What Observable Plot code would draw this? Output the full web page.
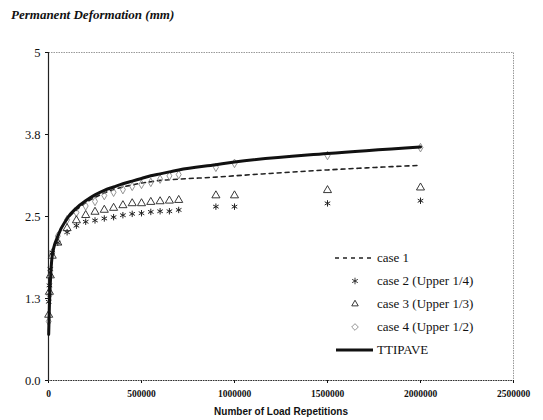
<!DOCTYPE html>
<html>
<head>
<meta charset="utf-8">
<script src="https://cdn.jsdelivr.net/npm/d3@7"></script>
<script src="https://cdn.jsdelivr.net/npm/@observablehq/plot@0.6"></script>
<style>
  body { margin: 0; background: #fff; }
  #title { height: 30px; line-height: 30px; padding-left: 11px; font-family: "Liberation Serif", "Times New Roman", Tinos, "DejaVu Serif", serif; font-size: 13px; font-weight: bold; font-style: italic; color: #111; }
  svg { display: block; }
</style>
</head>
<body>
<div id="title">Permanent Deformation (mm)</div>
<div id="chart"></div>
<script>
// Load repetitions (x)
const loadReps = [1000, 5000, 10000, 20000, 50000, 100000, 150000, 200000, 250000, 300000, 350000, 400000, 450000, 500000, 550000, 600000, 650000, 700000, 900000, 1000000, 1500000, 2000000];

// Permanent deformation (mm)
const case1 = [0.75, 1.20, 1.55, 1.90, 2.20, 2.45, 2.60, 2.71, 2.79, 2.86, 2.91, 2.95, 2.98, 3.01, 3.03, 3.05, 3.06, 3.07, 3.10, 3.12, 3.21, 3.28];
const case2 = [1.20, 1.45, 1.70, 1.95, 2.10, 2.26, 2.36, 2.42, 2.44, 2.47, 2.49, 2.52, 2.54, 2.55, 2.57, 2.58, 2.58, 2.60, 2.65, 2.65, 2.70, 2.74];
const case3 = [1.00, 1.35, 1.60, 1.90, 2.10, 2.32, 2.44, 2.52, 2.57, 2.60, 2.63, 2.67, 2.70, 2.70, 2.72, 2.73, 2.74, 2.75, 2.82, 2.82, 2.90, 2.94];
const case4 = [0.90, 1.30, 1.60, 1.95, 2.20, 2.45, 2.56, 2.66, 2.73, 2.82, 2.87, 2.91, 2.96, 2.99, 3.02, 3.07, 3.12, 3.14, 3.25, 3.31, 3.43, 3.55];
const ttipave = [0.70, 1.15, 1.50, 1.90, 2.20, 2.47, 2.63, 2.74, 2.83, 2.90, 2.95, 3.00, 3.04, 3.08, 3.12, 3.15, 3.18, 3.21, 3.29, 3.33, 3.46, 3.56];

const seriesNames = ["case 1", "case 2 (Upper 1/4)", "case 3 (Upper 1/3)", "case 4 (Upper 1/2)", "TTIPAVE"];

const xTicks = [0, 500000, 1000000, 1500000, 2000000, 2500000];
const yTicks = [0, 1.25, 2.5, 3.75, 5];
const yTickLabels = ["0.0", "1.3", "2.5", "3.8", "5"];
const xTitle = "Number of Load Repetitions";

const rows = (ys) => loadReps.map((x, i) => ({x, y: ys[i]}));
const d1 = rows(case1), d2 = rows(case2), d3s = rows(case3), d4 = rows(case4), dT = rows(ttipave);

const serif = "'Liberation Serif', 'Times New Roman', Tinos, 'DejaVu Serif', serif";

const svg = Plot.plot({
  width: 543,
  height: 390,
  marginTop: 22,
  marginBottom: 40,
  marginLeft: 48,
  marginRight: 30,
  style: {background: "#fff", color: "#111", fontFamily: serif},
  x: {domain: [0, 2500000]},
  y: {domain: [0, 5]},
  marks: [
    Plot.frame({stroke: "#999", strokeDasharray: "1.5,1"}),
    Plot.axisY({ticks: yTicks, tickFormat: (d, i) => yTickLabels[i], tickSize: 3, tickPadding: 5, fontSize: 12.5, fontFamily: serif, label: null}),
    Plot.axisX({ticks: xTicks, tickFormat: d => String(d), tickSize: 3, tickPadding: 7, fontSize: 9.5, fontWeight: "bold", fontFamily: serif, label: null}),
    Plot.ruleY([0], {stroke: "#333", strokeDasharray: "1.5,1", strokeWidth: 1.2}),
    Plot.ruleX([0], {stroke: "#222", strokeWidth: 1.2}),
    Plot.text([xTitle], {text: d => d, frameAnchor: "bottom", dy: 31, lineAnchor: "middle", fontFamily: "'Liberation Sans', Arial, sans-serif", fontWeight: "bold", fontSize: 10, fill: "#111"}),
    Plot.line(d1, {x: "x", y: "y", stroke: "#222", strokeWidth: 1.6, strokeDasharray: "4,4", curve: "monotone-x"}),
    Plot.dot(d4, {x: "x", y: "y", symbol: "diamond", r: 2.6, stroke: "#888", strokeWidth: 0.9, fill: "none"}),
    Plot.dot(d3s, {x: "x", y: "y", symbol: "triangle", r: 3, stroke: "#222", strokeWidth: 0.9, fill: "none"}),
    Plot.dot(d2, {x: "x", y: "y", symbol: "asterisk", r: 3, stroke: "#222", strokeWidth: 1}),
    Plot.line(dT, {x: "x", y: "y", stroke: "#111", strokeWidth: 3, curve: "monotone-x"})
  ]
});

// Legend (inside plot area)
const lg = d3.select(svg).append("g")
  .style("font-family", serif).style("font-size", "13px").attr("fill", "#111").attr("text-anchor", "start");
const legendTop = 258 - 30, step = 23;
seriesNames.forEach((name, i) => {
  const y = legendTop + i * step;
  if (i === 0) {
    lg.append("line").attr("x1", 335).attr("x2", 373).attr("y1", y).attr("y2", y)
      .attr("stroke", "#222").attr("stroke-width", 1.6).attr("stroke-dasharray", "4,4");
  } else if (i === 4) {
    lg.append("line").attr("x1", 336).attr("x2", 373).attr("y1", y).attr("y2", y)
      .attr("stroke", "#111").attr("stroke-width", 3);
  } else {
    const sym = [null, d3.symbolAsterisk, d3.symbolTriangle2, d3.symbolDiamond2][i];
    const col = i === 3 ? "#888" : "#222";
    lg.append("path").attr("d", d3.symbol(sym, i === 3 ? 28 : 30)())
      .attr("transform", `translate(355,${y})`).attr("fill", "none").attr("stroke", col).attr("stroke-width", 0.9);
  }
  lg.append("text").attr("x", 377).attr("y", y).attr("dy", "0.32em").style("text-anchor", "start").text(name);
});

document.getElementById("chart").appendChild(svg);
</script>
</body>
</html>
